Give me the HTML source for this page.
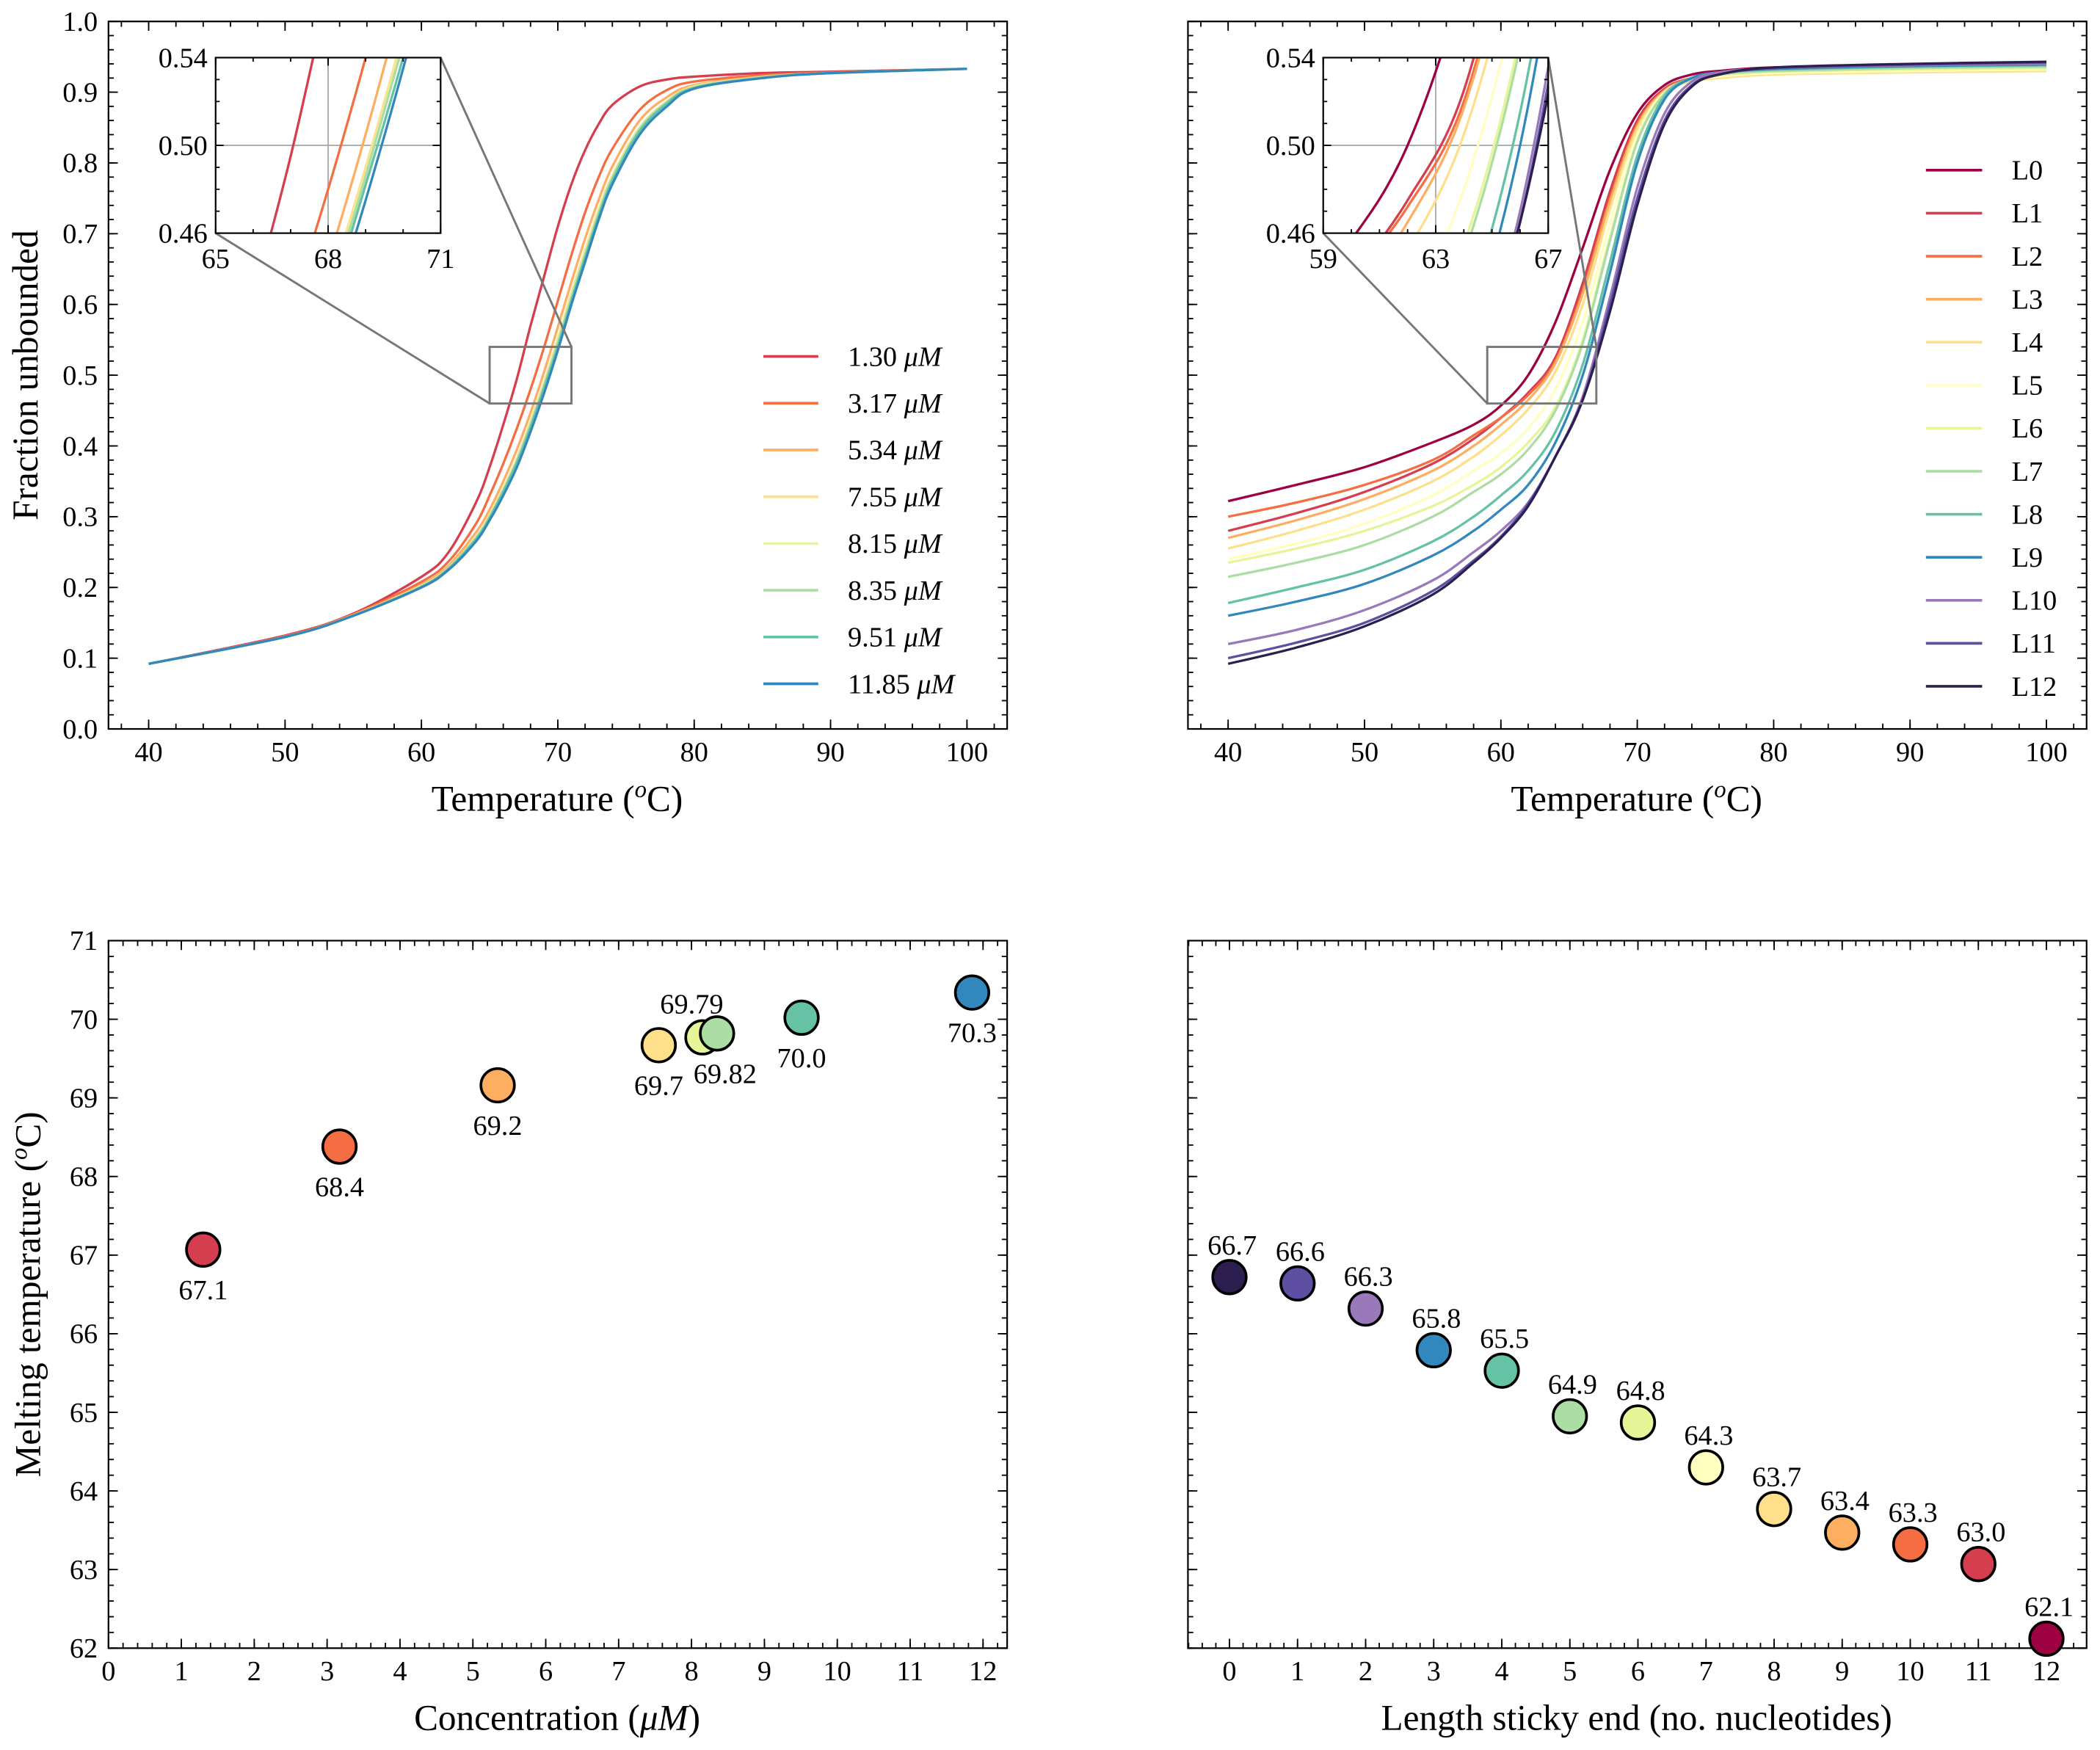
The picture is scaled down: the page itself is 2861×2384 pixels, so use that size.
<!DOCTYPE html>
<html><head><meta charset="utf-8"><style>
html,body{margin:0;padding:0;background:#fff}
svg{display:block}
text{font-family:"Liberation Serif","DejaVu Serif",serif;fill:#000}
</style></head><body>
<svg id="fig" xmlns="http://www.w3.org/2000/svg" width="2861" height="2384" viewBox="0 0 1568 1306" preserveAspectRatio="none">
<defs>
<clipPath id="cTL"><rect x="81" y="16" width="671" height="528"/></clipPath>
<clipPath id="cTR"><rect x="887" y="16" width="671" height="528"/></clipPath>
<clipPath id="cITL"><rect x="161" y="43" width="168" height="131"/></clipPath>
<clipPath id="cITR"><rect x="988" y="43" width="168" height="131"/></clipPath>
</defs>
<rect x="0" y="0" width="1568" height="1306" fill="#fff"/>
</svg>
<script>
// ---------- data ----------
const tempsA=[40,50,55,60,62,64,65,66,67,68,69,70,71,72,73,74,76,78,80,85,90,100];
const concLabels=["1.30","3.17","5.34","7.55","8.15","8.35","9.51","11.85"];
const c130=[.092,.132,.163,.215,.25,.32,.37,.43,.495,.57,.64,.71,.77,.818,.855,.882,.908,.918,.922,.927,.929,.933];
const c317=[.092,.131,.162,.208,.237,.29,.33,.375,.425,.48,.54,.605,.67,.73,.78,.82,.875,.903,.915,.924,.928,.933];
const c534=[.092,.13,.161,.204,.231,.278,.31,.35,.395,.447,.505,.568,.632,.693,.748,.795,.86,.893,.91,.922,.927,.933];
const c755=[.092,.13,.16,.202,.228,.271,.302,.34,.382,.434,.49,.551,.616,.676,.734,.782,.85,.887,.908,.921,.927,.933];
const c815=[.092,.13,.16,.202,.228,.27,.30,.338,.38,.431,.487,.548,.612,.672,.731,.78,.849,.886,.908,.921,.927,.933];
const c835=[.092,.13,.16,.201,.227,.27,.30,.337,.379,.43,.486,.546,.61,.67,.729,.779,.848,.886,.907,.921,.927,.933];
const c951=[.092,.13,.16,.201,.227,.268,.298,.335,.376,.426,.482,.54,.605,.666,.725,.775,.845,.884,.906,.92,.927,.933];
const c1185=[.092,.13,.16,.20,.225,.265,.295,.33,.37,.42,.475,.535,.6,.66,.72,.77,.84,.88,.905,.92,.927,.933];
const concColors=["#d53e4f","#f46d43","#fdae61","#fee08b","#e6f598","#abdda4","#66c2a5","#3288bd"];

const tempsB=[40,45,50,55,58,60,62,64,66,68,70,72,74,76,80,90,100];
const lenLabels=["L0","L1","L2","L3","L4","L5","L6","L7","L8","L9","L10","L11","L12"];
const L0=[.322,.345,.37,.405,.43,.457,.50,.575,.68,.79,.87,.91,.925,.93,.935,.938,.94];
const L1=[.28,.305,.335,.375,.41,.44,.475,.525,.63,.76,.86,.905,.92,.927,.93,.933,.935];
const L2=[.30,.32,.345,.38,.415,.44,.472,.52,.62,.75,.855,.903,.92,.926,.93,.932,.934];
const L3=[.27,.295,.325,.365,.40,.43,.465,.517,.615,.745,.852,.902,.918,.925,.928,.931,.933];
const L4=[.255,.28,.31,.35,.385,.415,.452,.505,.60,.735,.848,.9,.915,.92,.925,.928,.93];
const L5=[.24,.262,.29,.33,.365,.39,.425,.48,.575,.715,.84,.9,.917,.922,.927,.93,.932];
const L6=[.235,.255,.28,.315,.345,.37,.405,.455,.55,.695,.83,.898,.917,.924,.929,.932,.934];
const L7=[.215,.235,.26,.3,.335,.36,.395,.45,.545,.69,.83,.898,.918,.925,.93,.934,.936];
const L8=[.178,.2,.225,.265,.3,.33,.365,.42,.515,.66,.81,.895,.92,.927,.932,.936,.938];
const L9=[.16,.18,.205,.245,.28,.31,.345,.405,.5,.645,.8,.89,.92,.928,.933,.937,.939];
const L10=[.12,.14,.168,.21,.25,.28,.32,.385,.47,.61,.765,.87,.915,.928,.934,.938,.94];
const L11=[.10,.122,.15,.195,.238,.272,.318,.385,.465,.6,.75,.86,.91,.925,.934,.939,.942];
const L12=[.092,.115,.145,.19,.235,.27,.315,.385,.465,.59,.74,.855,.908,.925,.935,.94,.943];
const lenColors=["#9e0142","#d53e4f","#f46d43","#fdae61","#fee08b","#ffffbf","#e6f598","#abdda4","#66c2a5","#3288bd","#9a79bb","#5e4fa2","#2d1e50"];

const concValues=[1.30,3.17,5.34,7.55,8.15,8.35,9.51,11.85];
const concTm=[67.07,68.38,69.16,69.67,69.77,69.82,70.02,70.34];
const concTmLabels=["67.1","68.4","69.2","69.7","69.79","69.82","70.0","70.3"];
const stickyLen=[0,1,2,3,4,5,6,7,8,9,10,11,12];
const stickyTm=[66.72,66.64,66.32,65.79,65.53,64.95,64.87,64.30,63.77,63.47,63.32,63.07,62.12];
const stickyLabels=["66.7","66.6","66.3","65.8","65.5","64.9","64.8","64.3","63.7","63.4","63.3","63.0","62.1"];
const stickyColors=["#2d1e50","#5e4fa2","#9a79bb","#3288bd","#66c2a5","#abdda4","#e6f598","#ffffbf","#fee08b","#fdae61","#f46d43","#d53e4f","#9e0142"];

const FT=21, FA=27;
// ---------- helpers ----------
const NS="http://www.w3.org/2000/svg";
const svg=document.getElementById('fig');
function el(tag,attrs,parent){const e=document.createElementNS(NS,tag);for(const k in attrs)e.setAttribute(k,attrs[k]);(parent||svg).appendChild(e);return e;}
function lin(d0,d1,r0,r1){return v=>r0+(v-d0)*(r1-r0)/(d1-d0);}
function cr(p){let d="M"+p[0][0].toFixed(2)+","+p[0][1].toFixed(2);
 for(let i=0;i<p.length-1;i++){const p0=p[Math.max(0,i-1)],p1=p[i],p2=p[i+1],p3=p[Math.min(p.length-1,i+2)];
  const c1=[p1[0]+(p2[0]-p0[0])/6,p1[1]+(p2[1]-p0[1])/6],c2=[p2[0]-(p3[0]-p1[0])/6,p2[1]-(p3[1]-p1[1])/6];
  d+=" C"+c1[0].toFixed(2)+","+c1[1].toFixed(2)+" "+c2[0].toFixed(2)+","+c2[1].toFixed(2)+" "+p2[0].toFixed(2)+","+p2[1].toFixed(2);}
 return d;}
function range(a,b,s){const r=[];for(let v=a;v<=b+1e-9;v+=s)r.push(+v.toFixed(6));return r;}
function ticks(box,xs,ys,xMaj,xMin,yMaj,yMin,ML,mL){
 const g=el('g',{stroke:'#000','stroke-width':1});
 
 
 const [x0,y0,x1,y1]=box;
 xMaj.forEach(v=>{const x=xs(v);el('line',{x1:x,x2:x,y1:y1,y2:y1-ML},g);el('line',{x1:x,x2:x,y1:y0,y2:y0+ML},g);});
 xMin.forEach(v=>{const x=xs(v);if(x<x0||x>x1)return;el('line',{x1:x,x2:x,y1:y1,y2:y1-mL},g);el('line',{x1:x,x2:x,y1:y0,y2:y0+mL},g);});
 yMaj.forEach(v=>{const y=ys(v);el('line',{y1:y,y2:y,x1:x0,x2:x0+ML},g);el('line',{y1:y,y2:y,x1:x1,x2:x1-ML},g);});
 yMin.forEach(v=>{const y=ys(v);if(y<y0||y>y1)return;el('line',{y1:y,y2:y,x1:x0,x2:x0+mL},g);el('line',{y1:y,y2:y,x1:x1,x2:x1-mL},g);});
 el('rect',{x:x0,y:y0,width:x1-x0,height:y1-y0,fill:'none',stroke:'#000','stroke-width':1.2});
}
function txt(s,x,y,size,anchor,name){const t=el('text',{x:x,y:y,'font-size':size,'text-anchor':anchor||'middle'});t.textContent=s;
 
 
 return t;}
function muText(pre,x,y,size,anchor,name){const t=el('text',{x:x,y:y,'font-size':size,'text-anchor':anchor||'start'});
 
 
 t.appendChild(document.createTextNode(pre));const s=el('tspan',{'font-style':'italic'},t);s.textContent='μM';return t;}
function tempLabel(cx,y){const t=el('text',{x:cx,y:y,'font-size':FA,'text-anchor':'middle'});
 
 
 t.appendChild(document.createTextNode('Temperature ('));const s=el('tspan',{'font-style':'italic','font-size':18,dy:-10},t);s.textContent='o';
 const c=el('tspan',{dy:10},t);c.textContent='C)';}

// ---------- top-left ----------
const xTL=lin(40,100,111,722), yT=lin(0,1,544,16);
const concSeries=[c130,c317,c534,c755,c815,c835,c951,c1185];
ticks([81,16,752,544],xTL,yT,range(40,100,10),range(38,102,2),range(0,1,0.1),range(0,1,0.02),7,4);
range(40,100,10).forEach(v=>txt(String(v),xTL(v),568,FT,'middle','x-tick-label'));
range(0,1,0.1).forEach(v=>txt(v.toFixed(1),73,yT(v)+7,FT,'end','y-tick-label'));
{const gl=el('g',{'clip-path':'url(#cTL)'});
 
 
 concSeries.forEach((s,i)=>{const p=el('path',{d:cr(tempsA.map((t,j)=>[xTL(t),yT(s[j])])),fill:'none',stroke:concColors[i],'stroke-width':1.8},gl);
  
  });}
tempLabel(416,605);
{const t=txt('Fraction unbounded',0,0,FA,'middle','y-axis-title');t.setAttribute('transform','translate(28,280) rotate(-90)');}
concLabels.forEach((l,i)=>{const y=266+i*34.9;
 const ln=el('line',{x1:570,x2:611,y1:y,y2:y,stroke:concColors[i],'stroke-width':2});
 
 
 muText(l+' ',633,y+7,FT,'start','legend-entry');});
{const rx0=xTL(65),rx1=xTL(71),ry0=yT(0.54),ry1=yT(0.46);
 const r=el('rect',{x:rx0,y:ry0,width:rx1-rx0,height:ry1-ry0,fill:'none',stroke:'#777','stroke-width':1.6});
 
 
 el('line',{x1:161,y1:174,x2:rx0,y2:ry1,stroke:'#777','stroke-width':1.6});
 el('line',{x1:329,y1:43,x2:rx1,y2:ry0,stroke:'#777','stroke-width':1.6});}
{el('rect',{x:161,y:43,width:168,height:131,fill:'#fff'});
 const xi=lin(65,71,161,329), yi=lin(0.46,0.54,174,43);
 el('line',{x1:xi(68),x2:xi(68),y1:43,y2:174,stroke:'#aaa','stroke-width':1});
 el('line',{x1:161,x2:329,y1:yi(0.5),y2:yi(0.5),stroke:'#aaa','stroke-width':1});
 const gi=el('g',{'clip-path':'url(#cITL)'});
 
 
 concSeries.forEach((s,i)=>el('path',{d:cr(tempsA.map((t,j)=>[xi(t),yi(s[j])])),fill:'none',stroke:concColors[i],'stroke-width':1.8},gi));
 ticks([161,43,329,174],xi,yi,[65,68,71],range(65,71,1),[0.46,0.5,0.54],range(0.46,0.54,0.01),6,3);
 [65,68,71].forEach(v=>txt(String(v),xi(v),200,FT,'middle','inset-x-tick'));
 [0.46,0.5,0.54].forEach(v=>txt(v.toFixed(2),155,yi(v)+7,FT,'end','inset-y-tick'));}

// ---------- top-right ----------
const xTR=lin(40,100,917,1528);
const lenSeries=[L0,L1,L2,L3,L4,L5,L6,L7,L8,L9,L10,L11,L12];
ticks([887,16,1558,544],xTR,yT,range(40,100,10),range(38,102,2),range(0,1,0.1),range(0,1,0.02),7,4);
range(40,100,10).forEach(v=>txt(String(v),xTR(v),568,FT,'middle','x-tick-label'));
{const gl=el('g',{'clip-path':'url(#cTR)'});
 
 
 lenSeries.forEach((s,i)=>{const p=el('path',{d:cr(tempsB.map((t,j)=>[xTR(t),yT(s[j])])),fill:'none',stroke:lenColors[i],'stroke-width':1.8},gl);
  
  });}
tempLabel(1222,605);
lenLabels.forEach((l,i)=>{const y=127+i*32.1;
 const ln=el('line',{x1:1438,x2:1480,y1:y,y2:y,stroke:lenColors[i],'stroke-width':2});
 
 
 txt(l,1502,y+7,FT,'start','legend-entry');});
{const rx0=xTR(59),rx1=xTR(67),ry0=yT(0.54),ry1=yT(0.46);
 const r=el('rect',{x:rx0,y:ry0,width:rx1-rx0,height:ry1-ry0,fill:'none',stroke:'#777','stroke-width':1.6});
 
 
 el('line',{x1:988,y1:174,x2:rx0,y2:ry1,stroke:'#777','stroke-width':1.6});
 el('line',{x1:1156,y1:43,x2:rx1,y2:ry0,stroke:'#777','stroke-width':1.6});}
{el('rect',{x:988,y:43,width:168,height:131,fill:'#fff'});
 const xi=lin(59,67,988,1156), yi=lin(0.46,0.54,174,43);
 el('line',{x1:xi(63),x2:xi(63),y1:43,y2:174,stroke:'#aaa','stroke-width':1});
 el('line',{x1:988,x2:1156,y1:yi(0.5),y2:yi(0.5),stroke:'#aaa','stroke-width':1});
 const gi=el('g',{'clip-path':'url(#cITR)'});
 
 
 lenSeries.forEach((s,i)=>el('path',{d:cr(tempsB.map((t,j)=>[xi(t),yi(s[j])])),fill:'none',stroke:lenColors[i],'stroke-width':1.8},gi));
 ticks([988,43,1156,174],xi,yi,[59,63,67],range(59,67,1),[0.46,0.5,0.54],range(0.46,0.54,0.01),6,3);
 [59,63,67].forEach(v=>txt(String(v),xi(v),200,FT,'middle','inset-x-tick'));
 [0.46,0.5,0.54].forEach(v=>txt(v.toFixed(2),982,yi(v)+7,FT,'end','inset-y-tick'));}

// ---------- bottom-left ----------
const xBL=lin(0,12,81,734), yB=lin(62,71,1230,702);
ticks([81,702,752,1230],xBL,yB,range(0,12,1),range(0,12.3,0.2),range(62,71,1),range(62,71,0.2),7,4);
range(0,12,1).forEach(v=>txt(String(v),xBL(v),1254,FT,'middle','x-tick-label'));
range(62,71,1).forEach(v=>txt(String(v),73,yB(v)+7,FT,'end','y-tick-label'));
concValues.forEach((c,i)=>{const cx=xBL(c),cy=yB(concTm[i]);
 const m=el('circle',{cx:cx,cy:cy,r:12.5,fill:concColors[i],stroke:'#000','stroke-width':2});
 
 
 let lx=cx,ly=cy+37;
 if(i===4){ly=cy-18;lx=cx-8;}
 if(i===5){lx=cx+6;}
 txt(concTmLabels[i],lx,ly,FT,'middle','point-label');});
{const t=el('text',{x:0,y:0,'font-size':FA,'text-anchor':'middle',transform:'translate(30,966) rotate(-90)'});
 
 
 t.appendChild(document.createTextNode('Melting temperature ('));const s=el('tspan',{'font-style':'italic','font-size':18,dy:-10},t);s.textContent='o';const c=el('tspan',{dy:10},t);c.textContent='C)';}
{const t=el('text',{x:416,y:1291,'font-size':FA,'text-anchor':'middle'});
 
 
 t.appendChild(document.createTextNode('Concentration ('));const s=el('tspan',{'font-style':'italic'},t);s.textContent='μM';t.appendChild(document.createTextNode(')'));}

// ---------- bottom-right ----------
const xBR=lin(0,12,918,1528);
ticks([887,702,1558,1230],xBR,yB,range(0,12,1),range(-0.6,12.6,0.2),range(62,71,1),range(62,71,0.2),7,4);
range(0,12,1).forEach(v=>txt(String(v),xBR(v),1254,FT,'middle','x-tick-label'));
stickyLen.forEach((l,i)=>{const cx=xBR(l),cy=yB(stickyTm[i]);
 const m=el('circle',{cx:cx,cy:cy,r:12.5,fill:stickyColors[i],stroke:'#000','stroke-width':2});
 
 
 txt(stickyLabels[i],cx+2,cy-17,FT,'middle','point-label');});
txt('Length sticky end (no. nucleotides)',1222,1291,FA,'middle','x-axis-title');
</script>
</body></html>
